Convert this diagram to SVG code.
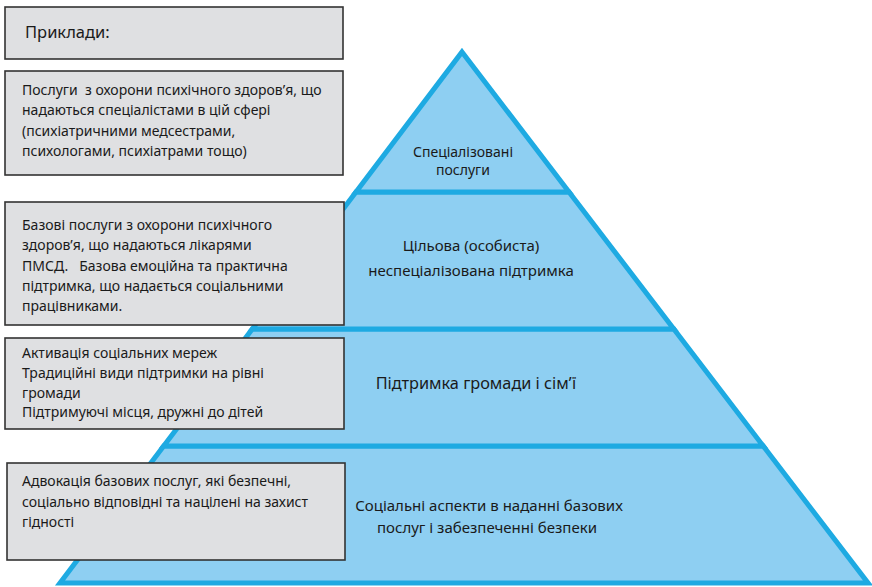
<svg xmlns="http://www.w3.org/2000/svg" width="872" height="587" viewBox="0 0 872 587">
<style>
.lvl{fill:#8ecff2;stroke:#1eaae2;stroke-width:5;stroke-linejoin:miter}
.box{fill:#dfe0e2;stroke:#333;stroke-width:1.6}
.t{font-family:"Noto Sans","Liberation Sans",sans-serif;font-size:14px;fill:#1a1a1a;white-space:pre}
.p{font-family:"Noto Sans","Liberation Sans",sans-serif;font-size:14px;fill:#1a1a1a;text-anchor:middle}
.p2{font-family:"Noto Sans","Liberation Sans",sans-serif;font-size:15px;fill:#1a1a1a;text-anchor:middle}
</style>
<rect width="872" height="587" fill="#fff"/>
<g id="pyramid">
<g id="level4"><polygon class="lvl" points="163.7,446 763.2,446 868,583 60,583"/>
<text class="p2" x="489" y="511">Соціальні аспекти в наданні базових</text>
<text class="p2" x="487" y="533">послуг і забезпеченні безпеки</text></g>
<g id="level3"><polygon class="lvl" points="252.3,329 673.8,329 763.2,446 163.7,446"/>
<text class="p2" x="476" y="389" style="font-size:16.3px">Підтримка громади і сім’ї</text></g>
<g id="level2"><polygon class="lvl" points="356,192 569,192 673.8,329 252.3,329"/>
<text class="p2" x="471" y="251">Цільова (особиста)</text>
<text class="p2" x="471" y="276">неспеціалізована підтримка</text></g>
<g id="level1"><polygon class="lvl" points="462,52 569,192 356,192"/>
<text class="p" x="463" y="157">Спеціалізовані</text>
<text class="p" x="463" y="175">послуги</text></g>
</g>
<g id="connectors"></g>
<g id="box-header"><rect class="box" x="5" y="7" width="338" height="52"/>
<text class="t" x="25" y="38" style="font-size:16.5px">Приклади:</text></g>
<g id="box1"><rect class="box" x="5" y="71" width="338" height="104"/>
<text class="t" x="22" y="95">Послуги  з охорони психічного здоров’я, що</text>
<text class="t" x="22" y="115">надаються спеціалістами в цій сфері</text>
<text class="t" x="22" y="136">(психіатричними медсестрами,</text>
<text class="t" x="22" y="156">психологами, психіатрами тощо)</text></g>
<g id="box2"><rect class="box" x="5" y="202" width="339" height="123"/>
<text class="t" x="22" y="230">Базові послуги з охорони психічного</text>
<text class="t" x="22" y="250">здоров’я, що надаються лікарями</text>
<text class="t" x="22" y="271">ПМСД.   Базова емоційна та практична</text>
<text class="t" x="22" y="291">підтримка, що надається соціальними</text>
<text class="t" x="22" y="311">працівниками.</text></g>
<g id="box3"><rect class="box" x="5" y="338" width="339" height="91"/>
<text class="t" x="22" y="358">Активація соціальних мереж</text>
<text class="t" x="22" y="378">Традиційні види підтримки на рівні</text>
<text class="t" x="22" y="398">громади</text>
<text class="t" x="22" y="417">Підтримуючі місця, дружні до дітей</text></g>
<g id="box4"><rect class="box" x="7" y="463" width="338" height="97"/>
<text class="t" x="22" y="486">Адвокація базових послуг, які безпечні,</text>
<text class="t" x="22" y="507">соціально відповідні та націлені на захист</text>
<text class="t" x="22" y="527">гідності</text></g>
</svg>
